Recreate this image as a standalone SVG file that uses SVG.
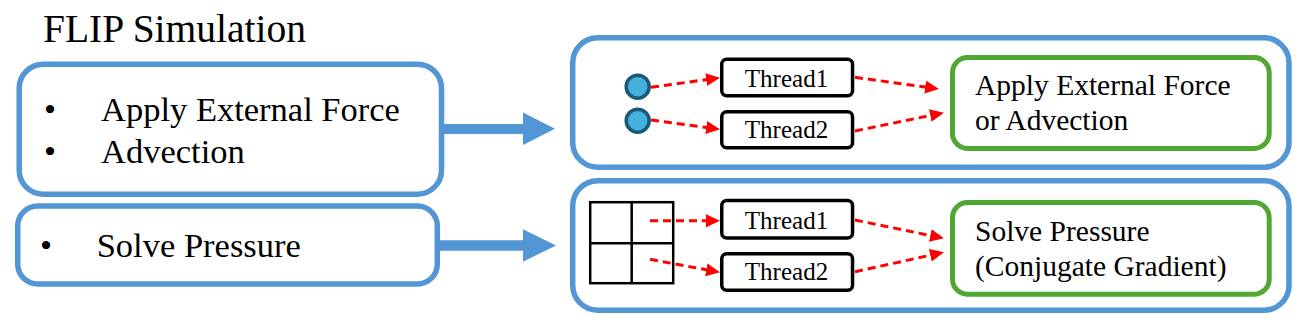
<svg xmlns="http://www.w3.org/2000/svg" width="1312" height="327" viewBox="0 0 1312 327" font-family="'Liberation Serif', Tinos, 'Times New Roman', 'DejaVu Serif', serif">
<style>
text{font-family:"Liberation Serif",Tinos,"Times New Roman","DejaVu Serif",serif;fill:#000}
.blue{fill:#fff;stroke:#5296d5;stroke-width:5.5}
.green{fill:#fff;stroke:#50a732;stroke-width:5}
.thr{fill:#fff;stroke:#000;stroke-width:3.5}
.dash{fill:none;stroke:#ff0000;stroke-width:3;stroke-dasharray:8 5}
.big{font-size:34.5px}
.mid{font-size:29.5px}
.sm{font-size:25px;text-anchor:middle}
.bigarrow{fill:#5296d5}
.dot{fill:#45afe0;stroke:#1d5877;stroke-width:3.5}
.grid{fill:none;stroke:#000;stroke-width:2.5}
</style>
<defs>
<marker id="ah" markerUnits="userSpaceOnUse" markerWidth="16" markerHeight="14" refX="4" refY="6.5" orient="auto">
<path d="M0,0 L14,6.5 L0,13 z" fill="#ff0000"/>
</marker>
</defs>
<text id="title" x="43" y="42" style="font-size:39.5px">FLIP Simulation</text>
<g id="left1">
<rect class="blue" x="19.2" y="64.2" width="422.3" height="130" rx="24"/>
<text class="big" x="44" y="120.7">•</text>
<text class="big" x="101" y="120.7">Apply External Force</text>
<text class="big" x="44" y="163.3">•</text>
<text class="big" x="101" y="163.3">Advection</text>
</g>
<g id="left2">
<rect class="blue" x="17.7" y="206" width="419.6" height="78" rx="20"/>
<text class="big" x="40" y="256.7">•</text>
<text class="big" x="96.7" y="256.7">Solve Pressure</text>
</g>
<g id="right1">
<rect class="blue" x="572.7" y="37.75" width="716.3" height="129.5" rx="25"/>
</g>
<g id="right2">
<rect class="blue" x="572.7" y="180.75" width="716.3" height="129.5" rx="25"/>
</g>
<g id="particle1"><circle class="dot" cx="637.7" cy="86.7" r="11.5"/></g>
<g id="particle2"><circle class="dot" cx="637.7" cy="120.7" r="11.5"/></g>
<g id="grid">
<rect class="grid" x="590.2" y="202.2" width="83" height="81"/>
<line class="grid" x1="631.7" y1="202.2" x2="631.7" y2="283.2"/>
<line class="grid" x1="590.2" y1="243.3" x2="673.2" y2="243.3"/>
</g>
<g id="threadA1"><rect class="thr" x="721.75" y="59.25" width="130.8" height="36.5" rx="5"/><text class="sm" x="786.5" y="87.3">Thread1</text></g>
<g id="threadA2"><rect class="thr" x="721.75" y="111.75" width="130.8" height="36" rx="5"/><text class="sm" x="786.5" y="138.3">Thread2</text></g>
<g id="threadB1"><rect class="thr" x="721.75" y="200.5" width="130.8" height="37.5" rx="5"/><text class="sm" x="786.5" y="229.3">Thread1</text></g>
<g id="threadB2"><rect class="thr" x="721.75" y="253.75" width="130.8" height="36.5" rx="5"/><text class="sm" x="786.5" y="280.3">Thread2</text></g>
<g id="taskA">
<rect class="green" x="952.5" y="57.5" width="316.7" height="91" rx="15"/>
<text class="mid" x="975" y="95">Apply External Force</text>
<text class="mid" x="975" y="130">or Advection</text>
</g>
<g id="taskB">
<rect class="green" x="952.5" y="202.5" width="316.7" height="91.7" rx="15"/>
<text class="mid" x="975" y="240.5">Solve Pressure</text>
<text class="mid" x="975" y="275.5">(Conjugate Gradient)</text>
</g>
<g id="connectors">
<path class="bigarrow" d="M441,124 L523,124 L523,112.5 L555,128.7 L523,145 L523,134 L441,134 z"/>
<path class="bigarrow" d="M437,240.3 L523,240.3 L523,229.3 L556,245.5 L523,261.7 L523,250.7 L437,250.7 z"/>
<line class="dash" x1="651" y1="87.3" x2="710.1" y2="79.1" marker-end="url(#ah)"/>
<line class="dash" x1="651" y1="120" x2="710.1" y2="128" marker-end="url(#ah)"/>
<line class="dash" x1="855" y1="77.3" x2="929.1" y2="87.6" marker-end="url(#ah)"/>
<line class="dash" x1="855" y1="131" x2="934.2" y2="114.7" marker-end="url(#ah)"/>
<line class="dash" x1="650" y1="220.7" x2="710" y2="220.7" marker-end="url(#ah)"/>
<line class="dash" x1="650" y1="259.3" x2="710.2" y2="270.5" marker-end="url(#ah)"/>
<line class="dash" x1="855" y1="220" x2="934.2" y2="236.3" marker-end="url(#ah)"/>
<line class="dash" x1="855" y1="271.7" x2="934.2" y2="254.4" marker-end="url(#ah)"/>
</g>
</svg>
